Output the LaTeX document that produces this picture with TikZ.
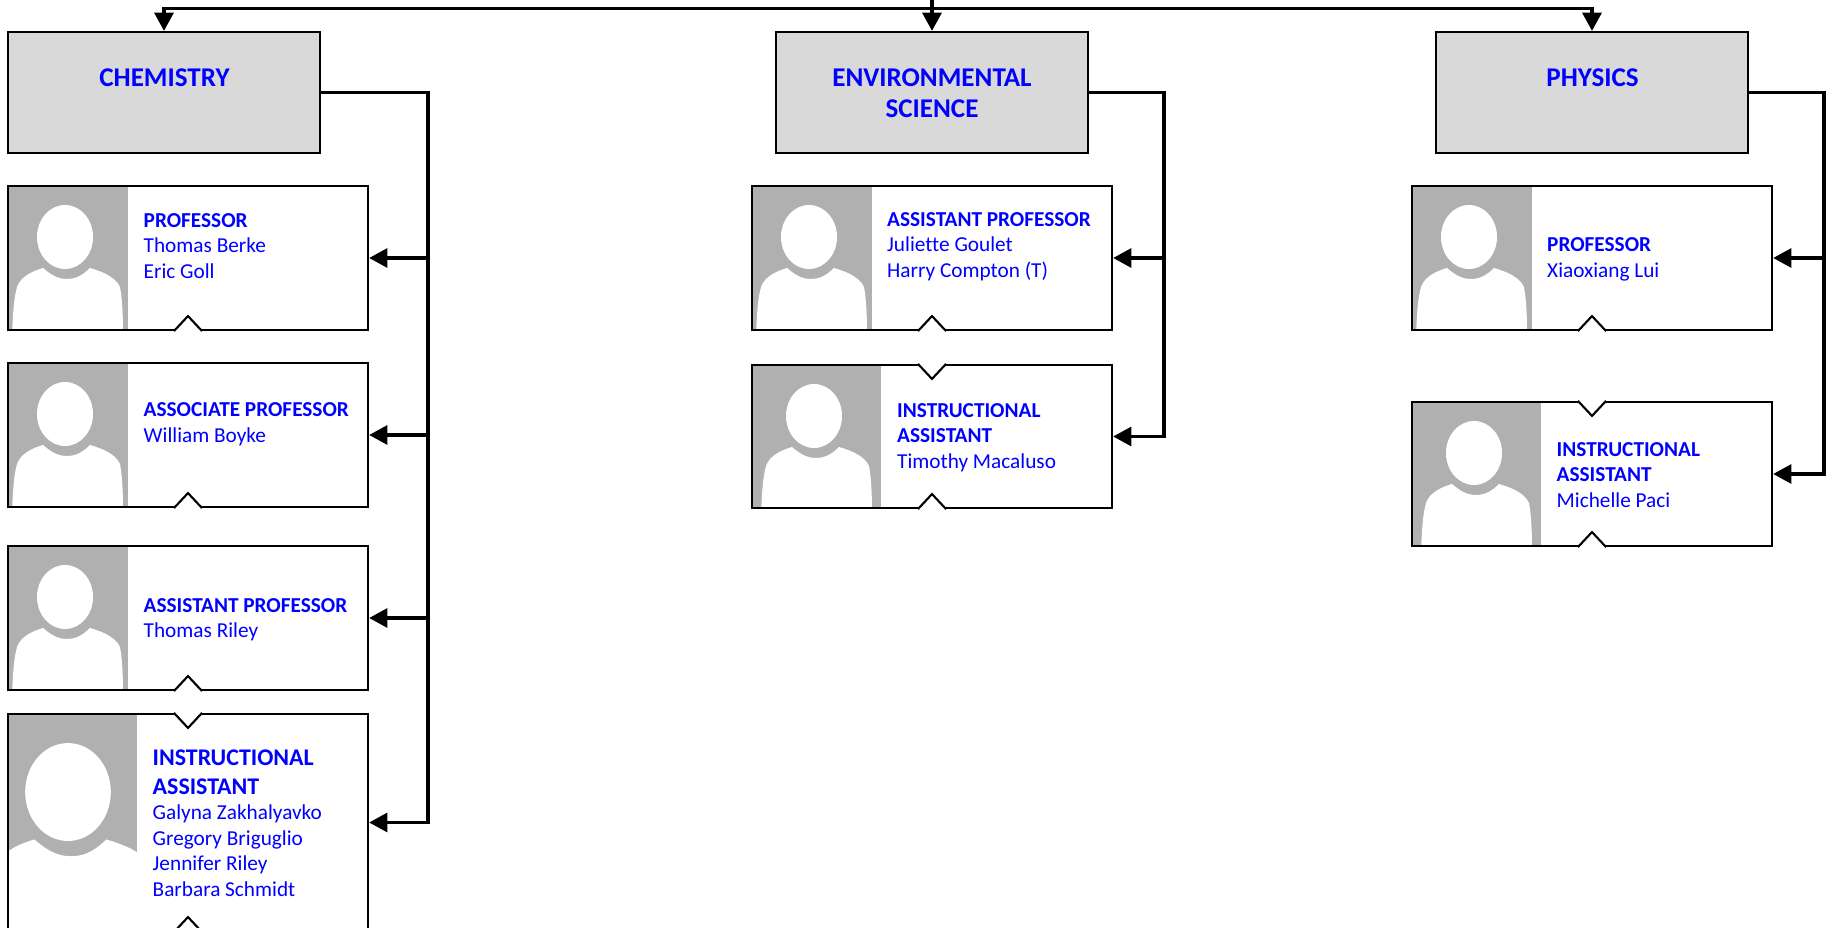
\documentclass[tikz,border=0pt]{standalone}
\usepackage{fontspec}
\setmainfont[Ligatures=NoCommon]{Carlito}
\usetikzlibrary{arrows.meta}
\definecolor{deptgray}{HTML}{D9D9D9}
\definecolor{photogray}{HTML}{B0B0B0}
\newcommand\bigTitle[1]{{\fontsize{6.8}{7.25}\selectfont\bfseries #1}}
\begin{document}
\begin{tikzpicture}[x=0.01cm, y=-0.01cm,
        link/.style={line width=0.95pt, -{Triangle[length=5.2pt, width=5.4pt]}},
        dept/.style={draw, fill=deptgray, line width=0.6pt, minimum width=3.12cm, minimum height=1.21cm, inner sep=0pt},
        depttext/.style={text=blue, align=center, inner sep=0pt, font=\fontsize{7.7}{8.9}\selectfont\bfseries},
        card/.style={draw, line width=0.6pt, minimum width=3.6cm, inner sep=0pt},
        cardtext/.style={text=blue, anchor=west, align=left, inner sep=0pt, font=\fontsize{6.05}{7.25}\selectfont},
        notch/.style={line width=0.6pt, line join=miter}
    ]
    \clip (0, 0) rectangle (1826, 928);

    % departments
    \node[dept] (chem) at (164, 92.5) {};
    \node[dept] (env) at (932, 92.5) {};
    \node[dept] (phys) at (1592, 92.5) {};
    \node[depttext] (chemText) at (164.5, 77.5) {CHEMISTRY};
    \node[depttext] (envText) at (932, 93) {ENVIRONMENTAL\\SCIENCE};
    \node[depttext] (physText) at (1592.5, 77.5) {PHYSICS};

    % cards: name/left/top/height/photo width/head x/head scale
    \foreach \cName/\cLeft/\cTop/\cHgt/\cWid/\cHead/\cZoom in {
            chemProf/8/186/144/120/57/1, chemAssoc/8/363/144/120/57/1,
            chemAsst/8/546/144/120/57/1, chemInstr/8/714/217/129/60/1.53,
            envAsst/752/186/144/120/57/1, envInstr/752/365/143/129/62/1,
            physProf/1412/186/144/120/57/1, physInstr/1412/402/144/129/62/1} {
        \pgfmathsetmacro\cMidX{\cLeft+180}
        \pgfmathsetmacro\cMidY{\cTop+\cHgt/2}
        \pgfmathsetmacro\cPhotoX{\cLeft+\cWid}
        \pgfmathsetmacro\cHeadX{\cLeft+\cHead}
        \begin{scope}
            \clip (\cLeft, \cTop) rectangle (\cPhotoX, \cTop+\cHgt);
            \fill[photogray] (\cLeft, \cTop) rectangle (\cPhotoX, \cTop+\cHgt);
            \begin{scope}[shift={(\cHeadX, \cTop)}, scale=\cZoom]
                \fill[white] (0, 51) ellipse [x radius=28, y radius=32];
                \fill[white] (-53, 150) .. controls (-52, 125) and (-51, 112) .. (-48, 101)
                    .. controls (-44, 90) and (-32, 85) .. (-22, 82)
                    .. controls (-15, 88) and (-8, 93) .. (2, 93)
                    .. controls (12, 93) and (19, 88) .. (25, 82)
                    .. controls (35, 85) and (50, 90) .. (55, 101)
                    .. controls (57, 112) and (58, 125) .. (58, 150) -- cycle;
            \end{scope}
        \end{scope}
        \node[card, minimum height=\cHgt*0.01cm] (\cName) at (\cMidX, \cMidY) {};
        % little tab at the bottom
        \draw[white, line width=0.9pt] (\cName.south) ++(-13, 0) -- ++(26, 0);
        \draw[notch] (\cName.south) ++(-14, 0) -- ++(14, -15) -- ++(14, 15);
    }
    \foreach \cName in {chemInstr, envInstr, physInstr} {
        \draw[white, line width=0.9pt] (\cName.north) ++(-13, 0) -- ++(26, 0);
        \draw[notch] (\cName.north) ++(-14, 0) -- ++(14, 15) -- ++(14, -15);
    }

    % card texts
    \node[cardtext] (chemProfText) at (143, 246) {\textbf{PROFESSOR}\\Thomas Berke\\Eric Goll};
    \node[cardtext] (chemAssocText) at (143, 424) {\textbf{ASSOCIATE PROFESSOR}\\William Boyke};
    \node[cardtext] (chemAsstText) at (143, 619.5) {\textbf{ASSISTANT PROFESSOR}\\Thomas Riley};
    \node[cardtext] (chemInstrText) at (152, 823) {\bigTitle{INSTRUCTIONAL}\\[1pt]\bigTitle{ASSISTANT}\\Galyna Zakhalyavko\\Gregory Briguglio\\Jennifer Riley\\Barbara Schmidt};
    \node[cardtext] (envAsstText) at (886.5, 246.5) {\textbf{ASSISTANT PROFESSOR}\\Juliette Goulet\\Harry Compton (T)};
    \node[cardtext] (envInstrText) at (896.5, 437.5) {\textbf{INSTRUCTIONAL}\\\textbf{ASSISTANT}\\Timothy Macaluso};
    \node[cardtext] (physProfText) at (1546.5, 259.5) {\textbf{PROFESSOR}\\Xiaoxiang Lui};
    \node[cardtext] (physInstrText) at (1556, 475) {\textbf{INSTRUCTIONAL}\\\textbf{ASSISTANT}\\Michelle Paci};

    % connectors
    \coordinate (rootTop) at (932, 0);
    \coordinate (rail) at (932, 8.5);
    \coordinate (chemBus) at (428, 150);
    \coordinate (envBus) at (1164, 150);
    \coordinate (physBus) at (1824, 150);
    \draw[link] (rootTop) -- (env.north);
    \draw[link] (rail) -| (chem.north);
    \draw[link] (rail) -| (phys.north);
    \foreach \cName in {chemProf, chemAssoc, chemAsst, chemInstr}
        \draw[link] (chem.east) -| (chemBus) |- (\cName.east);
    \foreach \cName in {envAsst, envInstr}
        \draw[link] (env.east) -| (envBus) |- (\cName.east);
    \foreach \cName in {physProf, physInstr}
        \draw[link] (phys.east) -| (physBus) |- (\cName.east);
\end{tikzpicture}
\end{document}
